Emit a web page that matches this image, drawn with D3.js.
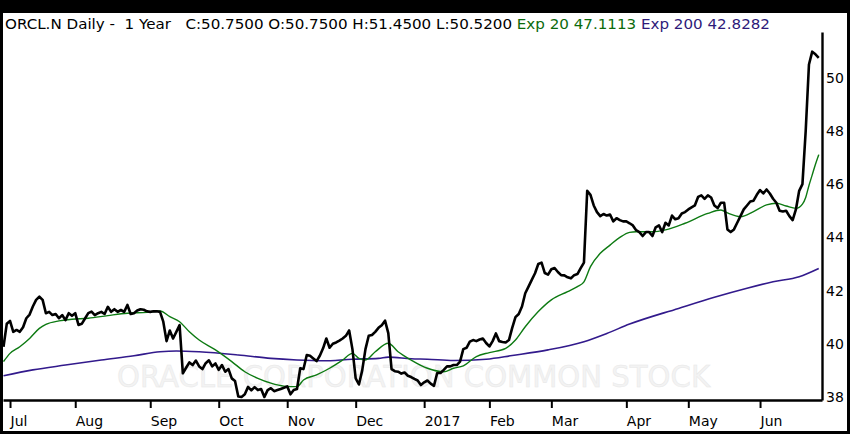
<!DOCTYPE html>
<html><head><meta charset="utf-8">
<script src="https://cdn.jsdelivr.net/npm/d3@7"></script>
<style>
html,body{margin:0;padding:0;background:#000;}
svg{display:block;}
text{font-family:"DejaVu Sans",Verdana,sans-serif;}
</style></head><body>
<svg id="chart" width="850" height="434"></svg>
<script>
// Daily closes, one per trading day, 2016-06-29 .. 2017-06-27
const closeValues = [
39.89,40.75,40.86,40.45,40.52,40.45,40.62,40.96,41.10,41.40,
41.65,41.77,41.65,41.15,41.20,41.08,41.12,40.96,41.08,40.89,
41.15,41.05,41.15,40.71,40.75,40.95,41.15,41.21,41.08,41.15,
41.20,41.12,41.39,41.20,41.30,41.20,41.27,41.20,41.46,41.12,
41.15,41.25,41.30,41.28,41.22,41.20,41.22,41.22,41.20,40.83,
40.10,40.50,40.20,40.45,40.70,38.89,39.10,39.30,39.20,39.37,
39.15,39.05,39.27,39.38,39.15,39.26,39.02,39.20,38.95,39.05,
38.70,38.60,38.02,38.00,38.10,38.38,38.25,38.37,38.26,38.30,
38.00,38.26,38.33,38.22,38.26,38.30,38.35,38.40,38.10,38.26,
38.30,39.08,39.05,39.58,39.55,39.45,39.35,39.55,39.83,40.20,
39.85,40.00,40.05,40.12,40.20,40.30,40.50,39.80,38.70,38.47,
39.00,39.80,40.30,40.33,40.45,40.60,40.70,40.87,40.40,39.05,
38.97,38.95,38.88,38.92,38.80,38.75,38.68,38.62,38.45,38.55,
38.62,38.50,38.42,38.90,38.90,39.02,39.15,39.15,39.20,39.20,
39.33,39.80,39.85,40.08,40.14,40.10,40.16,40.20,40.03,39.90,
40.10,40.39,40.10,40.07,40.05,40.14,40.60,41.00,41.12,41.40,
41.90,42.15,42.40,42.65,43.00,43.05,42.66,42.60,42.80,42.85,
42.70,42.58,42.57,42.50,42.46,42.58,42.62,42.84,43.05,45.75,
45.60,45.20,44.95,44.80,44.88,44.82,44.86,44.60,44.72,44.65,
44.60,44.60,44.53,44.45,44.27,44.20,44.05,44.20,44.20,44.05,
44.38,44.45,44.20,44.55,44.45,44.82,44.68,44.72,44.90,44.95,
45.05,45.13,45.20,45.52,45.58,45.45,45.58,45.50,45.20,45.10,
45.30,45.30,44.30,44.20,44.30,44.55,44.80,45.05,45.20,45.35,
45.38,45.60,45.78,45.65,45.80,45.65,45.45,45.30,45.00,44.97,
45.00,44.80,44.65,45.05,45.75,46.00,48.00,50.50,50.98,50.88,50.75
];

// Exp 20 (green), read at selected trading-day indices
const ema20Days = [0,2,5,8,11,13,17,21,26,32,38,44,48,51,54,57,60,65,70,74,78,82,86,90,92,96,100,104,107,109,111,114,118,121,125,130,135,138,141,145,149,154,157,160,164,168,173,176,178,180,183,186,189,192,194,199,203,209,216,220,222,226,230,234,237,240,243,245,246,247,248,249,250];
const ema20Values = [39.33,39.64,39.89,40.20,40.58,40.73,40.86,40.92,40.96,41.06,41.15,41.18,41.23,41.02,40.83,40.45,40.14,39.77,39.33,38.95,38.70,38.52,38.41,38.39,38.64,38.83,39.08,39.39,39.64,39.45,39.39,39.70,40.02,39.70,39.39,39.08,38.95,39.08,39.17,39.52,39.67,39.83,40.14,40.64,41.21,41.65,41.96,42.15,42.33,42.90,43.40,43.71,44.00,44.19,44.21,44.21,44.28,44.53,44.90,45.03,44.92,44.78,44.97,45.22,45.28,45.18,45.09,45.25,45.50,45.95,46.35,46.75,47.11];

// Exp 200 (purple)
const ema200Days = [0,9,19,30,40,48,53,60,72,82,90,98,107,115,118,125,130,138,148,156,167,178,185,192,207,218,228,236,244,250];
const ema200Values = [38.80,39.02,39.20,39.39,39.55,39.70,39.73,39.70,39.58,39.45,39.39,39.36,39.42,39.45,39.50,39.44,39.42,39.37,39.42,39.56,39.77,40.08,40.39,40.74,41.33,41.75,42.09,42.33,42.52,42.83];

const monthTickDays = [2,22,45,66,87,108,129,149,168,191,210,232];
const monthTickLabels = ["Jul","Aug","Sep","Oct","Nov","Dec","2017","Feb","Mar","Apr","May","Jun"];
const priceTicks = [38,40,42,44,46,48,50];

const headerParts = [
  {t:"ORCL.N Daily -  1 Year   C:50.7500 O:50.7500 H:51.4500 L:50.5200 ", c:"#000"},
  {t:"Exp 20 47.1113 ", c:"#0b6a0b"},
  {t:"Exp 200 42.8282", c:"#2e1a7a"}
];
const watermark = "ORACLE CORPORATION COMMON STOCK";

const FS = 14;
const svg = d3.select("#chart");
svg.append("rect").attr("width",850).attr("height",434).attr("fill","#000");
svg.append("rect").attr("x",3).attr("y",13).attr("width",844).attr("height",418).attr("fill","#fff");

const pL=3, pR=822, pT=32, pB=400;
const x = d3.scaleLinear().domain([-0.153, 251.0]).range([pL, pR]);
const y = d3.scaleLinear().domain([37.887, 51.72]).range([pB, pT]);

svg.append("defs").append("clipPath").attr("id","clip")
  .append("rect").attr("x",pL).attr("y",pT).attr("width",pR-pL).attr("height",pB-pT);

// watermark
svg.append("text").attr("x",117).attr("y",387).attr("font-size",30)
  .attr("textLength",593).attr("lengthAdjust","spacingAndGlyphs")
  .attr("fill","#f3f3f3").attr("stroke","#e8e8e8").attr("stroke-width",0.5)
  .text(watermark);

const g = svg.append("g").attr("clip-path","url(#clip)");
const emaLine = d3.line().x(d=>x(d[0])).y(d=>y(d[1])).curve(d3.curveMonotoneX);
g.append("path").datum(ema200Days.map((d,i)=>[d,ema200Values[i]]))
  .attr("d",emaLine).attr("fill","none").attr("stroke","#321a8c").attr("stroke-width",1.6);
g.append("path").datum(ema20Days.map((d,i)=>[d,ema20Values[i]]))
  .attr("d",emaLine).attr("fill","none").attr("stroke","#0d7a12").attr("stroke-width",1.4);
g.append("path").datum(closeValues)
  .attr("d",d3.line().x((d,i)=>x(i)).y(d=>y(d)))
  .attr("fill","none").attr("stroke","#000").attr("stroke-width",2.6)
  .attr("stroke-linejoin","round");

// bottom axis
const xAxis = svg.append("g").attr("transform",`translate(0,${pB})`)
  .call(d3.axisBottom(x).tickValues(monthTickDays)
    .tickFormat((d,i)=>monthTickLabels[i]).tickSize(8).tickSizeOuter(0));
xAxis.select(".domain").attr("stroke","#000").attr("stroke-width",2.4);
xAxis.selectAll(".tick line").attr("stroke","#000").attr("stroke-width",2);
xAxis.selectAll(".tick text").attr("text-anchor","start").attr("x",0).attr("y",26).attr("dy",0)
  .attr("font-size",FS).attr("fill","#000").style("font-family","'DejaVu Sans',sans-serif");

// right axis
const yAxis = svg.append("g").attr("transform",`translate(${pR},0)`)
  .call(d3.axisRight(y).tickValues(priceTicks).tickSize(0).tickPadding(4).tickSizeOuter(0));
yAxis.select(".domain").attr("stroke","#000").attr("stroke-width",2.4);
yAxis.selectAll(".tick text").attr("font-size",FS).attr("fill","#000")
  .style("font-family","'DejaVu Sans',sans-serif");

// header (one line, spaces preserved)
const header = svg.append("text").attr("x",5).attr("y",29).attr("font-size",14.5)
  .attr("textLength",765).attr("lengthAdjust","spacingAndGlyphs")
  .style("white-space","pre").attr("xml:space","preserve");
header.selectAll("tspan").data(headerParts).join("tspan")
  .attr("fill",d=>d.c).text(d=>d.t);
</script>
</body></html>
